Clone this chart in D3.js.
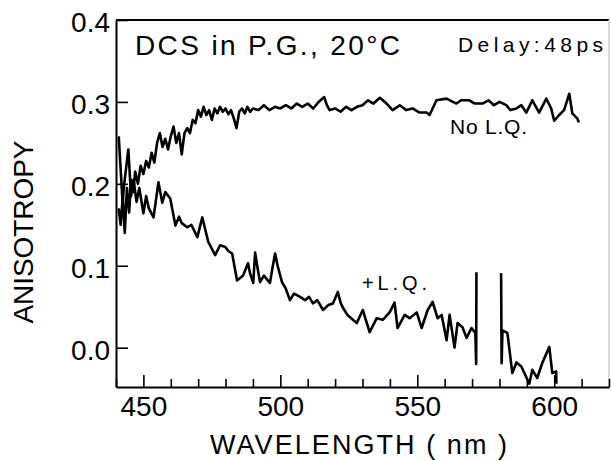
<!DOCTYPE html>
<html>
<head>
<meta charset="utf-8">
<script src="https://cdn.jsdelivr.net/npm/d3@7"></script>
<style>
  html, body { margin: 0; padding: 0; background: #fff; }
  svg { display: block; }
  text { font-family: "Liberation Sans", Arial, sans-serif; fill: #000; }
</style>
</head>
<body>
<script>
// ---- data ----
const xTickValues = [440,450,460,470,480,490,500,510,520,530,540,550,560,570,580,590,600,610,620];
const xLabelValues = [450, 500, 550, 600];
const yTickValues = [0.0, 0.1, 0.2, 0.3, 0.4];
const yTickLabels = ["0.0", "0.1", "0.2", "0.3", "0.4"];

const noLQ_nm = [441,441.7,442.5,443.2,444,444.8,445.5,446.3,447,448,449,450,451,452,453,454,455,456,457,458,459,460,461,462,463,464,465,466,467,468,469,470,471,472,473,474,475,476,477,478,479,480,481,482,483,484,485,486,487,488,489,490,492,494,496,498,500,502,504,506,508,510,512,514,516,517,518,520,522,524,526,528,530,532,534,536.3,538.8,541,543.6,546,548.3,550.8,553.4,554.5,557,560.7,563,564.3,566,569,571,573.8,576,578,580,582.5,584,586.2,588,589.8,592,594.5,597.1,598.9,600,601.8,603.6,605.5,606.6,608.4,609];
const noLQ_val = [0.170,0.150,0.185,0.140,0.195,0.165,0.205,0.190,0.215,0.200,0.222,0.212,0.228,0.220,0.238,0.226,0.250,0.262,0.245,0.255,0.242,0.258,0.270,0.250,0.262,0.236,0.262,0.268,0.262,0.278,0.274,0.290,0.282,0.294,0.284,0.290,0.278,0.292,0.286,0.294,0.288,0.292,0.285,0.290,0.280,0.268,0.288,0.292,0.286,0.294,0.288,0.292,0.290,0.296,0.290,0.294,0.292,0.296,0.292,0.298,0.294,0.298,0.292,0.300,0.306,0.296,0.290,0.292,0.288,0.294,0.290,0.294,0.296,0.302,0.298,0.305,0.298,0.290,0.296,0.290,0.292,0.287,0.287,0.284,0.302,0.304,0.300,0.298,0.302,0.302,0.298,0.298,0.302,0.296,0.300,0.296,0.290,0.292,0.296,0.287,0.302,0.287,0.304,0.292,0.277,0.284,0.290,0.310,0.286,0.280,0.275];

const lq_nm = [441,442.4,443,444.5,445.5,446.4,447.5,448.5,450,451,452,453.7,455.5,456.9,458,459.8,461.7,463,464,466,467.5,469.7,471.5,473.7,476.2,478,479.9,481,482.4,484.2,486.4,488.2,489,490.1,490.8,491.8,492.6,494,496.2,497,498.1,499,500.6,502,503.5,505,507.2,509,510.5,511.9,513.5,515.6,517.5,519.2,521,522,522.8,524.5,526.5,527.9,530.1,532.6,535.2,537.4,539.9,541.7,542.8,545.4,547.2,549.8,551.6,553.8,555.6,557.4,558.9,560.7,561.8,563.6,564.7,566.5,568,569.8,571.2,571.5,571.6,576,580.6,580.8,581.1,582.9,584.7,586.2,588,589.1,590.9,592,593.8,595.6,598.2,599.3,600.7,600.8];
const lq_val = [0.258,0.178,0.200,0.242,0.185,0.205,0.178,0.195,0.164,0.185,0.170,0.159,0.202,0.177,0.190,0.182,0.149,0.160,0.152,0.147,0.150,0.135,0.159,0.129,0.113,0.125,0.123,0.118,0.115,0.082,0.088,0.103,0.090,0.079,0.116,0.095,0.080,0.088,0.079,0.095,0.115,0.100,0.080,0.072,0.058,0.066,0.062,0.058,0.062,0.054,0.058,0.046,0.052,0.054,0.068,0.055,0.049,0.040,0.034,0.030,0.046,0.019,0.036,0.034,0.043,0.055,0.024,0.040,0.036,0.043,0.024,0.046,0.056,0.036,0.040,0.009,0.040,0.000,0.030,0.025,0.012,0.024,0.018,-0.020,0.092,null,0.091,-0.019,0.021,0.018,-0.031,-0.018,-0.023,-0.031,-0.044,-0.027,-0.037,-0.019,0.001,-0.031,-0.029,-0.044];

// ---- layout ----
const W = 611, H = 461;
const svg = d3.select("body").append("svg").attr("width", W).attr("height", H);

const x = d3.scaleLinear().domain([440, 620]).range([116, 609]);
const y = d3.scaleLinear().domain([-0.048, 0.4]).range([387, 20]);

// frame: top and faint right border
svg.append("line").attr("x1", x(440)).attr("x2", x(620)).attr("y1", y(0.4)).attr("y2", y(0.4))
  .attr("stroke", "#000").attr("stroke-width", 2);
svg.append("line").attr("x1", x(620)).attr("x2", x(620)).attr("y1", y(0.4)).attr("y2", y(-0.048))
  .attr("stroke", "#c8c8c8").attr("stroke-width", 1.5);

// x axis
const xAxis = d3.axisBottom(x).tickValues(xTickValues).tickSizeInner(-8).tickSizeOuter(0).tickPadding(9)
  .tickFormat(d => xLabelValues.includes(d) ? String(d) : "");
const gx = svg.append("g").attr("transform", `translate(0,${y(-0.048)})`).call(xAxis);
gx.select(".domain").attr("stroke-width", 2).attr("stroke", "#000");
gx.selectAll(".tick line").attr("stroke-width", 1.6)
  .attr("y2", d => xLabelValues.includes(d) ? -12 : -8);
gx.selectAll(".tick text").attr("font-size", 28).attr("font-family", "Liberation Sans, Arial, sans-serif").attr("fill", "#000");

// y axis
const yAxis = d3.axisLeft(y).tickValues(yTickValues).tickSizeInner(-12).tickSizeOuter(0).tickPadding(6)
  .tickFormat((d, i) => yTickLabels[i]);
const gy = svg.append("g").attr("transform", `translate(${x(440)},0)`).call(yAxis);
gy.select(".domain").attr("stroke-width", 2).attr("stroke", "#000");
gy.selectAll(".tick line").attr("stroke-width", 1.6);
gy.selectAll(".tick text").attr("font-size", 28).attr("font-family", "Liberation Sans, Arial, sans-serif")
  .attr("fill", "#000").attr("y", 3);

// series
const noLQ = noLQ_nm.map((d, i) => ({ nm: d, v: noLQ_val[i] }));
const lq = lq_nm.map((d, i) => ({ nm: d, v: lq_val[i] }));
const line = d3.line().defined(d => d.v !== null).x(d => x(d.nm)).y(d => y(d.v));

svg.append("path").datum(noLQ).attr("d", line).attr("fill", "none")
  .attr("stroke", "#000").attr("stroke-width", 2.6).attr("stroke-linejoin", "round");
svg.append("path").datum(lq).attr("d", line).attr("fill", "none")
  .attr("stroke", "#000").attr("stroke-width", 2.6).attr("stroke-linejoin", "round");

// annotations
svg.append("text").attr("x", 135).attr("y", 55).attr("font-size", 28)
  .attr("textLength", 265).attr("lengthAdjust", "spacing").text("DCS in P.G., 20°C");
svg.append("text").attr("x", 458).attr("y", 52).attr("font-size", 21)
  .attr("textLength", 145).attr("lengthAdjust", "spacing").text("Delay:48ps");
svg.append("text").attr("x", 450).attr("y", 134).attr("font-size", 21)
  .attr("textLength", 77).attr("lengthAdjust", "spacing").text("No L.Q.");
svg.append("text").attr("x", 362).attr("y", 290).attr("font-size", 20)
  .attr("textLength", 65).attr("lengthAdjust", "spacing").text("+L.Q.");

// axis titles
svg.append("text").attr("x", 210).attr("y", 454).attr("font-size", 27)
  .attr("textLength", 297).attr("lengthAdjust", "spacing").text("WAVELENGTH  ( nm )");
svg.append("text").attr("transform", "translate(33,232) rotate(-90)").attr("text-anchor", "middle")
  .attr("font-size", 28).attr("textLength", 183).attr("lengthAdjust", "spacing").text("ANISOTROPY");
</script>
</body>
</html>
